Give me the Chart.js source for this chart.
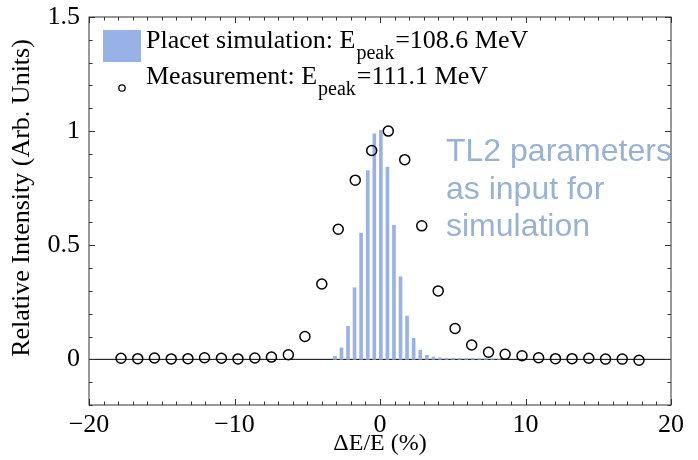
<!DOCTYPE html>
<html>
<head>
<meta charset="utf-8">
<script src="https://cdn.jsdelivr.net/npm/chart.js@4.4.0/dist/chart.umd.min.js"></script>
<style>
  html, body { margin: 0; padding: 0; background: #fff; }
</style>
</head>
<body>
<canvas id="spectrum" width="698" height="460"></canvas>
<script>
// Energy spread: Placet simulation vs measurement

// simulated histogram (bin centre in %, relative intensity)
const simX = [-3.1, -2.65, -2.2, -1.75, -1.3, -0.84, -0.39, 0.06, 0.51, 0.96, 1.41, 1.86, 2.31,
              2.77, 3.22, 3.67, 4.12, 4.57, 5.02, 5.47, 5.93, 6.38, 6.83, 7.28, 7.73, 8.18];
const simY = [0.013, 0.05, 0.145, 0.314, 0.553, 0.827, 0.988, 1.004, 0.842, 0.587, 0.362, 0.19, 0.092,
              0.04, 0.018, 0.01, 0.007, 0.005, 0.005, 0.004, 0.004, 0.004, 0.003, 0.003, 0.003, 0.002];

// measured points
const measX = [-17.8, -16.65, -15.5, -14.35, -13.2, -12.06, -10.9, -9.76, -8.6, -7.46, -6.3, -5.16,
               -4.0, -2.87, -1.7, -0.57, 0.57, 1.7, 2.87, 4.0, 5.16, 6.3, 7.46, 8.6,
               9.76, 10.9, 12.06, 13.2, 14.35, 15.5, 16.65, 17.8];
const measY = [0.005, 0.003, 0.006, 0.002, 0.003, 0.007, 0.005, 0.002, 0.006, 0.01, 0.02, 0.1,
               0.33, 0.57, 0.785, 0.915, 1.0, 0.875, 0.585, 0.3, 0.135, 0.063, 0.031, 0.022,
               0.016, 0.007, 0.003, 0.003, 0.005, 0.001, 0.001, -0.004];

const xTicks = [-20, -10, 0, 10, 20];
const yTicks = [0, 0.5, 1, 1.5];

const legendSim = ['Placet simulation: E', 'peak', '=108.6 MeV'];
const legendMeas = ['Measurement: E', 'peak', '=111.1 MeV'];
const noteLines = ['TL2 parameters', 'as input for', 'simulation'];

const barColor = 'rgb(152, 178, 232)';
const noteColor = 'rgb(152, 178, 212)';
const serif = '"Liberation Serif", "DejaVu Serif", serif';

const ctx = document.getElementById('spectrum');

// frame, inward ticks, zero line, legend and note
const decorations = {
  id: 'decorations',
  beforeDatasetsDraw(chart) {
    const c = chart.ctx;
    const a = chart.chartArea;
    const y0 = chart.scales.y.getPixelForValue(0);
    c.save();
    c.strokeStyle = '#000';
    c.lineWidth = 1;
    c.beginPath();
    c.moveTo(a.left, y0);
    c.lineTo(a.right, y0);
    c.stroke();
    c.restore();
  },
  afterDraw(chart) {
    const c = chart.ctx;
    const a = chart.chartArea;
    const xs = chart.scales.x;
    const ys = chart.scales.y;
    c.save();
    c.strokeStyle = '#333';
    c.lineWidth = 1;
    c.strokeRect(a.left, a.top, a.right - a.left, a.bottom - a.top);

    c.beginPath();
    for (let i = -20; i <= 20; i++) {
      const px = Math.round(xs.getPixelForValue(i)) + 0.5;
      const len = i % 10 === 0 ? 6 : 3.5;
      c.moveTo(px, a.bottom); c.lineTo(px, a.bottom - len);
      c.moveTo(px, a.top); c.lineTo(px, a.top + len);
    }
    for (let k = -2; k <= 15; k++) {
      const py = Math.round(ys.getPixelForValue(k / 10)) + 0.5;
      const len = k % 5 === 0 ? 6 : 3.5;
      c.moveTo(a.left, py); c.lineTo(a.left + len, py);
      c.moveTo(a.right, py); c.lineTo(a.right - len, py);
    }
    c.stroke();

    // y axis title
    c.fillStyle = '#000';
    c.font = '26px ' + serif;
    c.textAlign = 'center';
    c.textBaseline = 'middle';
    c.translate(22, 198);
    c.rotate(-Math.PI / 2);
    c.fillText('Relative Intensity (Arb. Units)', 0, 0);
    c.restore();

    // legend
    c.save();
    c.fillStyle = barColor;
    c.fillRect(103, 30, 38, 32);
    c.strokeStyle = '#000';
    c.lineWidth = 1.3;
    c.beginPath();
    c.arc(122, 88, 3.2, 0, Math.PI * 2);
    c.stroke();
    c.fillStyle = '#000';
    c.textAlign = 'left';
    c.textBaseline = 'alphabetic';
    const drawEntry = (parts, x, y) => {
      c.font = '26px ' + serif;
      c.fillText(parts[0], x, y);
      x += c.measureText(parts[0]).width + 1;
      c.font = '20px ' + serif;
      c.fillText(parts[1], x, y + 11);
      x += c.measureText(parts[1]).width + 1;
      c.font = '26px ' + serif;
      c.fillText(parts[2], x, y);
    };
    drawEntry(legendSim, 146, 48);
    drawEntry(legendMeas, 146, 84);

    // note
    c.fillStyle = noteColor;
    c.font = '32px "Liberation Sans", Arial, sans-serif';
    noteLines.forEach((t, i) => c.fillText(t, 446, 161 + i * 37.5));
    c.restore();
  }
};

const chart = new Chart(ctx, {
  data: {
    datasets: [{
      type: 'scatter',
      label: 'Measurement',
      data: measX.map((x, i) => ({ x: x, y: measY[i] })),
      pointStyle: 'circle',
      pointRadius: 5,
      borderColor: '#000',
      borderWidth: 1.5,
      backgroundColor: 'rgba(0,0,0,0)',
      order: 0
    }, {
      type: 'bar',
      label: 'Placet simulation',
      data: simX.map((x, i) => ({ x: x, y: simY[i] })),
      backgroundColor: barColor,
      barThickness: 3,
      order: 1
    }]
  },
  options: {
    responsive: false,
    animation: false,
    devicePixelRatio: 1,
    layout: { padding: { top: 17, right: 27, left: 0, bottom: 0 } },
    plugins: { legend: { display: false }, tooltip: { enabled: false } },
    scales: {
      x: {
        type: 'linear',
        min: -20,
        max: 20,
        offset: false,
        grid: { display: false, drawTicks: false },
        border: { display: false },
        afterBuildTicks: s => { s.ticks = xTicks.map(v => ({ value: v })); },
        afterFit: s => { s.height = 55; },
        ticks: {
          color: '#000',
          padding: 5,
          maxRotation: 0,
          font: { family: serif, size: 26 },
          callback: v => String(v).replace('-', '\u2212')
        },
        title: {
          display: true,
          text: '\u0394E/E (%)',
          color: '#000',
          font: { family: serif, size: 24 },
          padding: { top: 0, bottom: 2 }
        }
      },
      y: {
        type: 'linear',
        min: -0.2,
        max: 1.5,
        grid: { display: false, drawTicks: false },
        border: { display: false },
        afterBuildTicks: s => { s.ticks = yTicks.map(v => ({ value: v })); },
        afterFit: s => {
          s.width = 89;
          // let the top label hang over the frame like the original
          s.paddingTop = 0;
          s.paddingBottom = 0;
        },
        ticks: {
          color: '#000',
          padding: 9,
          font: { family: serif, size: 26 },
          callback: v => String(v)
        }
      }
    }
  },
  plugins: [decorations]
});
</script>
</body>
</html>
